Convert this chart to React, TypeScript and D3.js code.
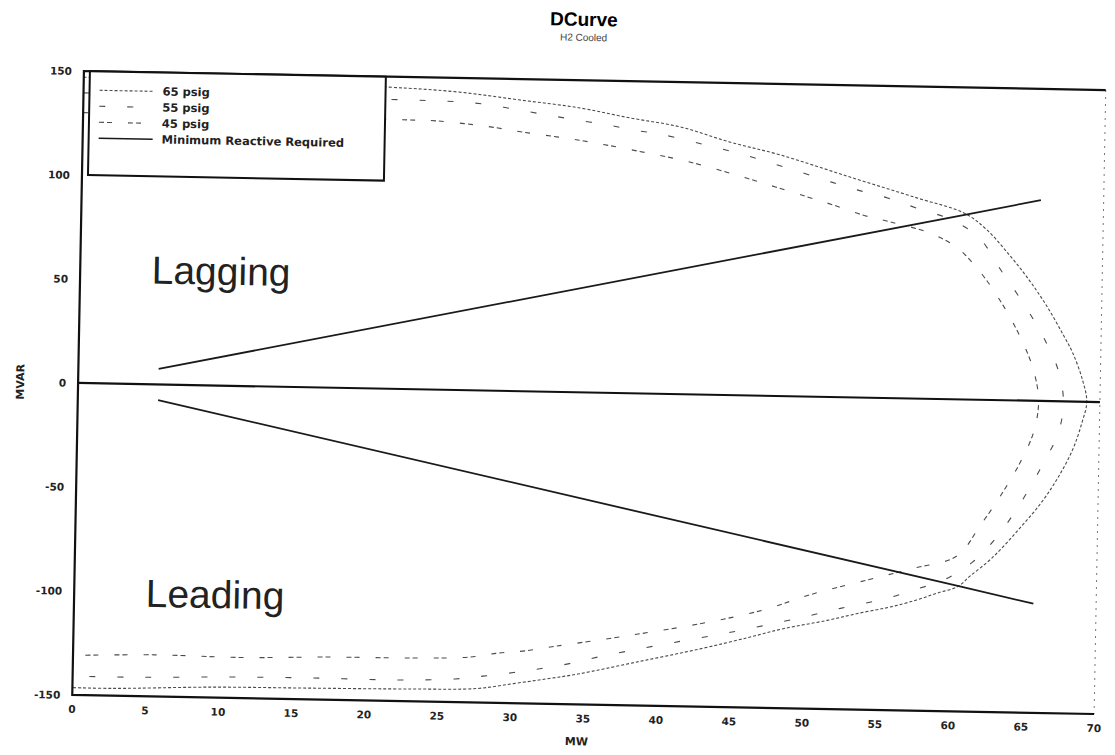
import React, { useEffect, useRef } from 'react';
import * as d3 from 'd3';

const W = 1115;
const H = 755;

const mwTicks = [0, 5, 10, 15, 20, 25, 30, 35, 40, 45, 50, 55, 60, 65, 70];
const mvarTicks = [-150, -100, -50, 0, 50, 100, 150];

// [MW, MVAR]
const psig65: [number, number][] = [
  [0, 147], [10, 146.5], [20.8, 145], [25.6, 143.3], [29.9, 140], [34, 136.7],
  [37.5, 132.3], [40.9, 128.5], [44.3, 121.7], [47.8, 115.9], [52.6, 105.9],
  [57.2, 96.5], [60.5, 89.5], [62, 82], [63.6, 70], [65, 58], [66.3, 45],
  [67.4, 32], [68.1, 23], [68.8, 10], [69.1, 0], [68.8, -10], [68.2, -23],
  [67.2, -37], [66.1, -49], [64.6, -62], [62.8, -76], [61.3, -85],
  [60.5, -90], [59.1, -93.3], [57.7, -96.8], [55.9, -100.4], [53.8, -103.6],
  [51.6, -107.4], [48.6, -111.8], [46.3, -116.2], [42.9, -122.3], [38.5, -129.3],
  [34.7, -135.3], [32.5, -138], [30.2, -140.6], [27.7, -143.3], [23.3, -144.1],
  [16.5, -144.6], [9.6, -145], [2.8, -146.5], [0, -146.5]
];

const psig55: [number, number][] = [
  [0, 139.5], [10, 139.5], [22.2, 139], [25.9, 138.5], [27.9, 137.3],
  [29.8, 135.2], [31.8, 133], [33.8, 130.9], [35.9, 128.8], [37.7, 126.6],
  [39.7, 124.6], [43.5, 118.7], [45.5, 115.3], [47.4, 111.5], [49.4, 107.4],
  [51.4, 103.2], [53.1, 99.8], [55.2, 96.2], [57.2, 91.6], [59.5, 86.5],
  [61.5, 78], [63.1, 62], [64.8, 45], [66.1, 30], [67.1, 15], [67.5, 0],
  [67.2, -15], [66.2, -30], [64.8, -48], [63.2, -65], [61.5, -78], [59.5, -87],
  [57.5, -92], [55.7, -96.2], [52.5, -101.5], [49.7, -106.5], [45, -114],
  [40, -121], [36, -127], [34, -130.5], [32, -133.2], [30.2, -135.3],
  [28.1, -137.3], [26.2, -138.9], [22.4, -139.9], [16.5, -139.7], [10.6, -140],
  [4.8, -140.9], [0, -141]
];

const psig45: [number, number][] = [
  [0, 130], [10, 129.8], [22.2, 129.4], [24.2, 129.2], [27.9, 126.8],
  [30.1, 124.6], [33.9, 121.3], [37.7, 116.9], [41.6, 111.7], [45.5, 104.5],
  [47.5, 100.5], [49.7, 96], [51.5, 92.3], [53.5, 87.8], [55.4, 84.7],
  [58, 80], [60, 73], [61.8, 60], [63.3, 45], [64.5, 30], [65.4, 15],
  [65.8, 0], [65.5, -15], [64.6, -30], [63.4, -45], [62, -60], [60.4, -75.3],
  [57.5, -81.5], [54.3, -87.6], [50.5, -95], [47.2, -103], [43, -110],
  [38, -116.5], [33.1, -122.2], [30.8, -124.9], [29.1, -126.1], [27.1, -128.3],
  [23.3, -129.2], [17.5, -129.5], [11.6, -130.5], [5.6, -130], [0, -131]
];

const minReqLagging: [number, number][] = [[5.5, 7.5], [60.5, 88.8], [65.7, 96.5]];
const minReqLeading: [number, number][] = [[5.5, -7.5], [60.5, -89.7], [65.7, -97.5]];

const legendLabels = ['65 psig', '55 psig', '45 psig', 'Minimum Reactive Required'];
const dashes = ['3,2', '6,22', '5,3,5,16', null];

export default function App() {
  const ref = useRef<SVGSVGElement>(null);

  useEffect(() => {
    const svg = d3.select(ref.current);
    svg.selectAll('*').remove();

    const left = 78, right = 1100, top = 80.5, bottom = 704.5;
    const x = d3.scaleLinear().domain([0, 70]).range([left, right]);
    const y = d3.scaleLinear().domain([-150, 150]).range([bottom, top]);
    const cx = (left + right) / 2;
    const cy = (top + bottom) / 2;

    svg.append('rect').attr('width', W).attr('height', H).attr('fill', '#fff');

    // the scan is tilted by about a degree
    const g = svg.append('g').attr('transform', `rotate(1.07, ${cx}, ${cy})`);

    g.append('text')
      .attr('x', cx - 12).attr('y', 26)
      .attr('text-anchor', 'middle')
      .style('font-family', '"Liberation Sans", Arial, sans-serif')
      .style('font-weight', 'bold').style('font-size', '19px')
      .text('DCurve');
    g.append('text')
      .attr('x', cx - 12).attr('y', 41)
      .attr('text-anchor', 'middle')
      .style('font-family', '"Liberation Sans", Arial, sans-serif')
      .style('font-size', '10px').attr('fill', '#444')
      .text('H2 Cooled');

    const line = d3.line<[number, number]>()
      .x(d => x(d[0]))
      .y(d => y(d[1]))
      .curve(d3.curveCatmullRom.alpha(0.5));

    [psig65, psig55, psig45].forEach((data, i) => {
      g.append('path')
        .attr('d', line(data))
        .attr('fill', 'none')
        .attr('stroke', '#4a4a4a')
        .attr('stroke-width', 1.1)
        .attr('stroke-dasharray', dashes[i]);
    });

    [minReqLagging, minReqLeading].forEach(data => {
      g.append('path')
        .attr('d', d3.line<[number, number]>().x(d => x(d[0])).y(d => y(d[1]))(data))
        .attr('fill', 'none')
        .attr('stroke', '#1a1a1a')
        .attr('stroke-width', 1.8);
    });

    // zero line
    g.append('line')
      .attr('x1', x(0)).attr('x2', x(70))
      .attr('y1', y(0)).attr('y2', y(0))
      .attr('stroke', '#111').attr('stroke-width', 2.2);

    // frame
    g.append('line')
      .attr('x1', x(70)).attr('x2', x(70)).attr('y1', y(150)).attr('y2', y(-150))
      .attr('stroke', '#777').attr('stroke-width', 1).attr('stroke-dasharray', '2,5');
    g.append('path')
      .attr('d', `M${x(70)},${y(150)}H${x(0)}V${y(-150)}H${x(70)}`)
      .attr('fill', 'none').attr('stroke', '#111').attr('stroke-width', 2.2);

    const tickFont = (s: d3.Selection<SVGTextElement, number, SVGGElement, unknown>) =>
      s.style('font-family', '"DejaVu Sans", sans-serif')
        .style('font-size', '10.5px').style('font-weight', 'bold').attr('fill', '#222');

    g.append('g').selectAll('text').data(mwTicks).enter().append('text')
      .attr('x', d => x(d)).attr('y', bottom + 18)
      .attr('text-anchor', 'middle')
      .call(tickFont)
      .text(d => d);

    g.append('g').selectAll('text').data(mvarTicks).enter().append('text')
      .attr('x', left - 12).attr('y', d => y(d) + 4)
      .attr('text-anchor', 'end')
      .call(tickFont)
      .text(d => d);

    g.append('text')
      .attr('transform', `translate(24, ${cy}) rotate(-90)`)
      .attr('text-anchor', 'middle')
      .style('font-family', '"DejaVu Sans", sans-serif')
      .style('font-size', '11px').style('font-weight', 'bold').attr('fill', '#222')
      .text('MVAR');
    g.append('text')
      .attr('x', cx - 6).attr('y', bottom + 41)
      .attr('text-anchor', 'middle')
      .style('font-family', '"DejaVu Sans", sans-serif')
      .style('font-size', '11px').style('font-weight', 'bold').attr('fill', '#222')
      .text('MW');

    // region labels
    const region = [
      { t: 'Lagging', mw: 4.9, mvar: 48.5 },
      { t: 'Leading', mw: 4.9, mvar: -107 }
    ];
    g.append('g').selectAll('text').data(region).enter().append('text')
      .attr('x', d => x(d.mw)).attr('y', d => y(d.mvar))
      .style('font-family', '"Liberation Sans", Arial, sans-serif')
      .style('font-size', '39px').attr('fill', '#222')
      .text(d => d.t);

    // legend
    const lg = g.append('g').attr('transform', `translate(${left + 6}, ${top})`);
    lg.append('rect')
      .attr('width', 296).attr('height', 104)
      .attr('fill', '#fff').attr('stroke', '#111').attr('stroke-width', 2);
    legendLabels.forEach((label, i) => {
      const ly = 19 + i * 16;
      lg.append('line')
        .attr('x1', 10).attr('x2', 64).attr('y1', ly).attr('y2', ly)
        .attr('stroke', i === 3 ? '#1a1a1a' : '#4a4a4a')
        .attr('stroke-width', i === 3 ? 1.5 : 1.1)
        .attr('stroke-dasharray', dashes[i]);
      lg.append('text')
        .attr('x', 73).attr('y', ly + 4)
        .style('font-family', '"DejaVu Sans", sans-serif')
        .style('font-size', '11.5px').style('font-weight', 'bold').attr('fill', '#222')
        .text(label);
    });
  }, []);

  return (
    <svg
      ref={ref}
      width={W}
      height={H}
      style={{ position: 'absolute', left: 0, top: 0, display: 'block' }}
    />
  );
}
